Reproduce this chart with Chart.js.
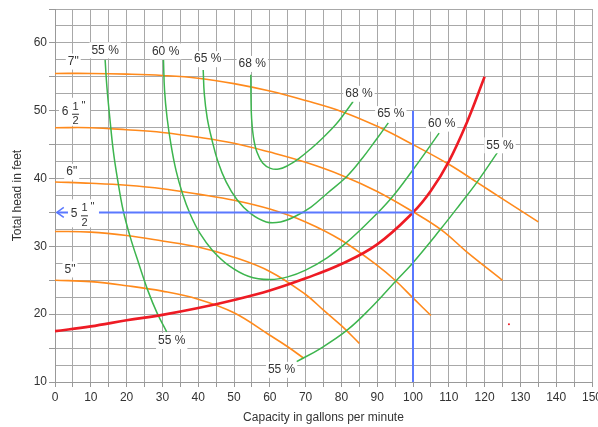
<!DOCTYPE html>
<html>
<head>
<meta charset="utf-8">
<script src="https://cdn.jsdelivr.net/npm/chart.js@4/dist/chart.umd.min.js"></script>
<style>
  html, body { margin: 0; padding: 0; background: #fff; }
  canvas { display: block; }
</style>
</head>
<body>
<canvas id="pump" width="598" height="427"></canvas>
<script>
// impeller diameter curves: [gpm, head ft]
var imp7   = [[0,55.5],[10,55.5],[20,55.4],[30,55.2],[40,54.8],[50,54.0],[60,52.9],[70,51.5],[80,49.9],[90,47.7],[100,45.0],[110,42.1],[118,39.4],[125,37.0],[135,33.6]];
var imp6h  = [[0,47.5],[10,47.5],[20,47.2],[30,46.8],[40,46.1],[50,45.2],[60,43.9],[70,42.4],[80,40.5],[90,38.1],[100,35.1],[108,32.4],[115,29.2],[125,25.0]];
var imp6   = [[0,39.5],[10,39.3],[20,39.0],[30,38.5],[40,37.7],[50,36.8],[60,35.5],[70,33.6],[80,30.9],[90,27.2],[95,25.0],[100,22.4],[105,19.8]];
var imp5h  = [[0,32.2],[10,32.1],[20,31.6],[30,30.8],[40,29.9],[50,28.4],[60,26.3],[70,22.9],[75,20.6],[80,18.3],[85,15.7]];
var imp5   = [[0,25.0],[10,24.8],[20,24.2],[30,23.4],[40,22.2],[50,20.2],[60,16.9],[65,15.2],[69.5,13.5]];

// system curve
var system = [[0,17.5],[10,18.2],[20,19.1],[30,19.9],[40,20.9],[50,22.1],[60,23.5],[70,25.3],[80,27.4],[90,30.3],[100,35.0],[105,38.2],[110,42.5],[115,48.2],[120,55.0]];

// efficiency curves
var eff55a = [[14,57.5],[14.5,53.5],[15.3,49.0],[16.3,44.0],[17.5,39.8],[19,35.4],[21,31.4],[23.5,27.3],[26,23.4],[28.5,20.2],[31.2,17.4]];
var eff60  = [[30.3,57.5],[30.6,53.0],[31.3,49.0],[32.4,45.0],[33.8,41.2],[35.6,37.8],[37.8,34.7],[40.5,31.9],[44,29.4],[48.5,27.2],[54,25.6],[60,25.1],[65,25.5],[70,26.5],[76,28.3],[81.5,30.6],[87,33.3],[93.6,36.9],[100,41.3],[107.3,46.7]];
var eff65  = [[41.4,56.0],[41.7,52.5],[42.5,49.0],[43.8,45.8],[45.5,42.5],[47.8,39.5],[50.8,36.9],[54.5,34.9],[59,33.6],[63,33.6],[67,34.4],[71.5,35.8],[76,37.8],[81.5,40.3],[86,43.1],[89.8,45.8],[93.1,48.2]];
var eff68  = [[54.7,55.3],[54.75,52.0],[54.9,49.0],[55.4,46.2],[56.4,43.9],[58,42.3],[60.2,41.5],[62.5,41.4],[65,41.9],[68,42.9],[71.5,44.4],[75,46.1],[78.5,48.0],[81,49.7],[83.3,51.4]];
var eff55b = [[67.5,13.0],[74,14.9],[81.5,17.6],[88,20.8],[95.4,25.0],[100,27.6],[107.5,32.4],[113,36.1],[118.2,39.7],[123.8,44.0]];

// operating point guide lines
var guideH = [[0.5,35],[100,35]];
var guideV = [[100,10],[100,50]];
var stray  = [[126.8,18.5]];

// curve labels: text, gpm, head
var effLabels = [
  ['55 %', 14.0, 58.9], ['60 %', 30.9, 58.75], ['65 %', 42.65, 57.6], ['68 %', 55.1, 56.9],
  ['68 %', 84.9, 52.5], ['65 %', 93.8, 49.5], ['60 %', 108.0, 48.1], ['55 %', 124.3, 44.9],
  ['55 %', 32.6, 16.05], ['55 %', 63.3, 11.8]
];
var sizeLabels = [
  ['7"', 5.1, 57.25], ['6 1/2"', 2.8, 49.85], ['6"', 4.66, 41.0], ['5 1/2"', 5.3, 34.87], ['5"', 4.19, 26.6]
];

var xTicks = [0, 10, 20, 30, 40, 50, 60, 70, 80, 90, 100, 110, 120, 130, 140, 150];
var yTicks = [10, 20, 30, 40, 50, 60];

var FONT = '"Liberation Sans", Arial, sans-serif';
var ORANGE = '#ff8a1c', GREEN = '#3db54e', RED = '#ee1b24', BLUE = '#5a78ff';

function pts(a) { return a.map(function (p) { return {x: p[0], y: p[1]}; }); }
function line(data, color, width, order) {
  return {data: pts(data), borderColor: color, borderWidth: width, pointRadius: 0,
    tension: 0.4, fill: false, order: order};
}

var labelPlugin = {
  id: 'curveLabels',
  afterDatasetsDraw: function (chart) {
    var ctx = chart.ctx, x = chart.scales.x, y = chart.scales.y;
    ctx.save();

    // arrow head on the horizontal guide
    var ax = x.getPixelForValue(guideH[0][0]), ay = y.getPixelForValue(guideH[0][1]);
    ctx.strokeStyle = BLUE; ctx.lineWidth = 1.5;
    ctx.beginPath();
    ctx.moveTo(ax + 7, ay - 5); ctx.lineTo(ax, ay); ctx.lineTo(ax + 7, ay + 5);
    ctx.stroke();

    ctx.textAlign = 'center';
    ctx.textBaseline = 'middle';
    ctx.font = '12px ' + FONT;
    effLabels.forEach(function (l) {
      var px = x.getPixelForValue(l[1]), py = y.getPixelForValue(l[2]);
      var w = ctx.measureText(l[0]).width + 4;
      ctx.fillStyle = '#fff';
      ctx.fillRect(px - w / 2, py - 8, w, 16);
      ctx.fillStyle = '#333';
      ctx.fillText(l[0], px, py);
    });

    sizeLabels.forEach(function (l) {
      var px = x.getPixelForValue(l[1]), py = y.getPixelForValue(l[2]);
      var frac = l[0].match(/^(\d) (\d)\/(\d)"$/);
      ctx.fillStyle = '#fff';
      if (frac) {
        ctx.fillRect(px - 6, py - 14, 31, 28);
        ctx.fillStyle = '#333';
        ctx.font = '12px ' + FONT;
        ctx.fillText(frac[1], px, py);
        ctx.font = '11px ' + FONT;
        ctx.fillText(frac[2], px + 10.5, py - 5);
        ctx.fillText(frac[3], px + 10.5, py + 9.5);
        ctx.fillText('"', px + 18.5, py - 6);
        ctx.strokeStyle = '#333'; ctx.lineWidth = 1;
        ctx.beginPath(); ctx.moveTo(px + 7, py + 2.5); ctx.lineTo(px + 14, py + 2.5); ctx.stroke();
      } else {
        ctx.font = '12px ' + FONT;
        var w = ctx.measureText(l[0]).width + 4;
        ctx.fillRect(px - w / 2, py - 8, w, 16);
        ctx.fillStyle = '#333';
        ctx.fillText(l[0], px, py);
      }
    });
    ctx.restore();
  }
};

Chart.defaults.font.family = FONT;
Chart.defaults.font.size = 12;
Chart.defaults.color = '#333';

new Chart(document.getElementById('pump'), {
  type: 'line',
  data: {
    datasets: [
      line(imp7, ORANGE, 1.6, 4), line(imp6h, ORANGE, 1.6, 4), line(imp6, ORANGE, 1.6, 4),
      line(imp5h, ORANGE, 1.6, 4), line(imp5, ORANGE, 1.6, 4),
      line(eff55a, GREEN, 1.5, 3), line(eff60, GREEN, 1.5, 3), line(eff65, GREEN, 1.5, 3),
      line(eff68, GREEN, 1.5, 3), line(eff55b, GREEN, 1.5, 3),
      line(system, RED, 2.6, 2),
      line(guideH, BLUE, 2, 1), line(guideV, BLUE, 2, 1),
      {data: pts(stray), showLine: false, pointRadius: 1, pointBorderWidth: 0, pointBackgroundColor: RED, order: 0}
    ]
  },
  options: {
    responsive: false,
    animation: false,
    events: [],
    layout: {padding: {left: 0, right: 6, top: 9, bottom: 0}},
    plugins: {legend: {display: false}, tooltip: {enabled: false}},
    scales: {
      x: {
        type: 'linear', min: 0, max: 150,
        ticks: {stepSize: 5, autoSkip: false, maxRotation: 0, padding: 3,
          callback: function (v) { return xTicks.indexOf(v) >= 0 ? String(v) : ''; }},
        grid: {color: '#a8a8a8', tickLength: 5,
          tickColor: function (c) { return c.tick && c.tick.value % 5 === 0 ? '#999' : 'rgba(0,0,0,0)'; }},
        border: {color: '#999'},
        title: {display: true, text: 'Capacity in gallons per minute', padding: {top: 0, bottom: 2}},
        afterFit: function (s) { s.height = 45; s.paddingLeft = 0; s.paddingRight = 0; }
      },
      y: {
        type: 'linear', min: 10, max: 65,
        ticks: {stepSize: 2.5, autoSkip: false, padding: 2,
          callback: function (v) { return yTicks.indexOf(v) >= 0 ? String(v) : ''; }},
        grid: {color: '#a8a8a8', tickLength: 6,
          tickColor: function (c) { return c.tick && c.tick.value % 5 === 0 ? '#999' : 'rgba(0,0,0,0)'; }},
        border: {color: '#999'},
        title: {display: true, text: 'Total head in feet', padding: {top: 10, bottom: 0}},
        afterFit: function (s) { s.width = 55; s.paddingTop = 0; s.paddingBottom = 0; }
      }
    }
  },
  plugins: [labelPlugin]
});
</script>
</body>
</html>
